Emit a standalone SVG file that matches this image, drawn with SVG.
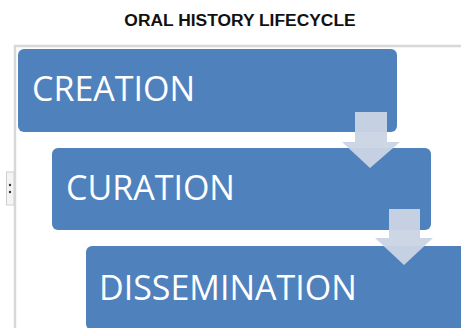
<svg xmlns="http://www.w3.org/2000/svg" width="461" height="328" viewBox="0 0 461 328">
<style>
.title{font-family:"Liberation Sans",Arial,sans-serif;font-weight:bold;font-size:17.4px;fill:#111}
.box{fill:#4f81bd}
.lbl{font-family:"Open Sans","Liberation Sans",sans-serif;font-size:34px;fill:#fff}
.arr{fill:#cad4e4;opacity:0.96}
.frame{fill:none;stroke:#d8d8d8;stroke-width:2.5}
</style>
<rect width="461" height="328" fill="#fff"/>
<text class="title" x="240" y="25.5" text-anchor="middle">ORAL HISTORY LIFECYCLE</text>
<g id="frame">
<path class="frame" d="M15 330 V46 H463"/>
<rect x="6.5" y="172" width="7.5" height="33" fill="#f4f4f4" stroke="#d0d0d0" stroke-width="1"/>
<circle cx="10" cy="185" r="1.2" fill="#333"/>
<circle cx="10" cy="192" r="1.2" fill="#333"/>
</g>
<g id="creation">
<rect class="box" x="18" y="49" width="379" height="83" rx="6"/>
<text class="lbl" x="32" y="100.5">CREATION</text>
</g>
<g id="curation">
<rect class="box" x="52" y="148" width="379" height="82" rx="6"/>
<text class="lbl" x="66" y="199.5">CURATION</text>
</g>
<g id="dissemination">
<rect class="box" x="86" y="246" width="385" height="84" rx="6"/>
<text class="lbl" x="99" y="299.5">DISSEMINATION</text>
</g>
<g id="connectors">
<path class="arr" d="M355 112 H387 V142 H400 L370 168 L342 142 H355 Z"/>
<path class="arr" d="M389 209 H420 V238 H433 L404 265 L375 238 H389 Z"/>
</g>
</svg>
